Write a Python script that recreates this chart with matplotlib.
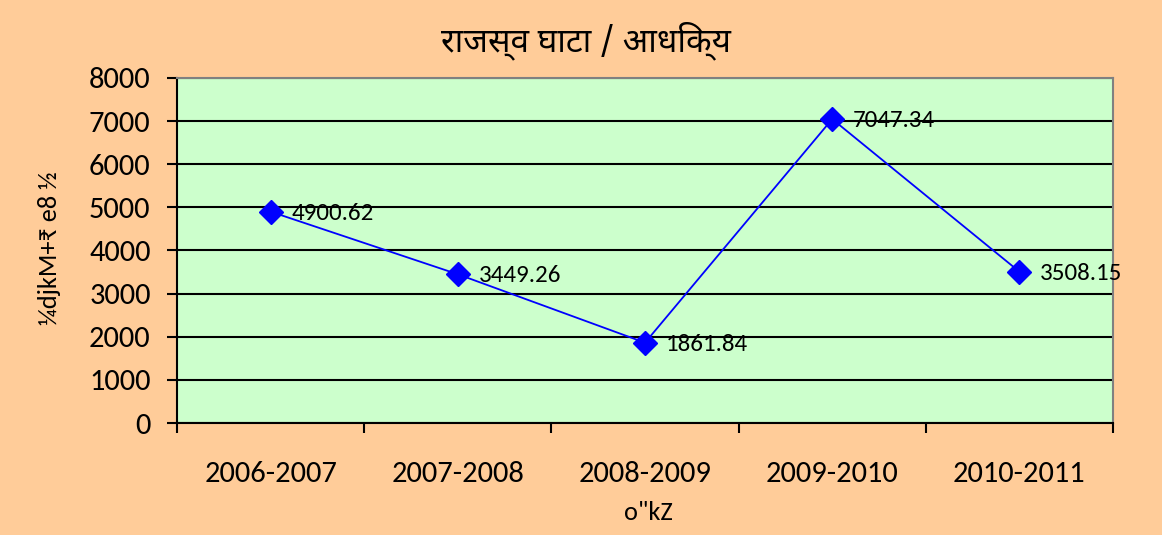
import matplotlib
matplotlib.use("Agg")
import matplotlib.pyplot as plt
from matplotlib import font_manager as fm
from matplotlib.ft2font import FT2Font
from matplotlib.ticker import FixedLocator, NullFormatter

categories = ["2006-2007", "2007-2008", "2008-2009", "2009-2010", "2010-2011"]
values = [4900.62, 3449.26, 1861.84, 7047.34, 3508.15]
value_labels = ["4900.62", "3449.26", "1861.84", "7047.34", "3508.15"]
y_ticks = [0, 1000, 2000, 3000, 4000, 5000, 6000, 7000, 8000]
title = "राजस्व घाटा / आधिक्य"
ylabel = "¼djkM+₹ e8 ½"
xlabel = 'o"kZ'

# find a Devanagari font
deva_path = None
cands = []
for f in fm.findSystemFonts():
    name = f.split("/")[-1]
    if "NotoSansDevanagari-Regular" in name or "NotoSansDevanagari[" in name:
        cands.insert(0, f)
    elif "Devanagari" in name and "Regular" in name:
        cands.append(f)
for f in cands:
    try:
        if 0x0930 in FT2Font(f).get_charmap():
            deva_path = f
            break
    except Exception:
        pass
if deva_path is not None:
    fm.fontManager.addfont(deva_path)
    deva_family = fm.FontProperties(fname=deva_path).get_name()
else:
    deva_family = "DejaVu Sans"

avail = {f.name for f in fm.fontManager.ttflist}
main_family = [f for f in ["Carlito", "Open Sans", "DejaVu Sans"] if f in avail]
plt.rcParams['font.family'] = main_family + ["DejaVu Sans"]

W, H = 1162, 535
fig = plt.figure(figsize=(W / 100, H / 100), dpi=100, facecolor="#FFCC99")
ax = fig.add_axes([177 / W, 1 - 423 / H, (1113 - 177) / W, (423 - 78) / H])
ax.set_facecolor("#CCFFCC")

x = [i + 0.5 for i in range(len(categories))]
ax.plot(x, values, color="#0000FF", lw=1.3, marker="D", markersize=12,
        markerfacecolor="#0000FF", markeredgecolor="#0000FF", zorder=3)
for xi, v, lab in zip(x, values, value_labels):
    ax.annotate(lab, (xi, v), xytext=(15, -1), textcoords="offset points",
                ha="left", va="center", fontsize=18, color="black", zorder=4)

ax.set_xlim(0, len(categories))
ax.set_ylim(0, 8000)
ax.set_yticks(y_ticks)
ax.set_yticklabels([str(t) for t in y_ticks])
ax.yaxis.grid(True, color="black", lw=1.5)
ax.set_axisbelow(True)

ax.xaxis.set_major_locator(FixedLocator(range(len(categories) + 1)))
ax.xaxis.set_major_formatter(NullFormatter())
ax.xaxis.set_minor_locator(FixedLocator(x))
ax.set_xticklabels(categories, minor=True)
ax.tick_params(axis="x", which="major", direction="out", length=7, width=1.5, color="black")
ax.tick_params(axis="x", which="minor", length=0, pad=27, labelsize=22)
ax.tick_params(axis="y", direction="out", length=7, width=1.5, color="black", labelsize=22, pad=12)

for s in ["left", "bottom"]:
    ax.spines[s].set_color("black")
    ax.spines[s].set_linewidth(1.5)
for s in ["top", "right"]:
    ax.spines[s].set_color("#808080")
    ax.spines[s].set_linewidth(1.5)

fig.text(586 / W, 1 - 41 / H, title, ha="center", va="center", fontsize=24,
         family=[deva_family, "DejaVu Sans"])
fig.text(50 / W, 1 - 248 / H, ylabel, ha="center", va="center", rotation=90,
         fontsize=19)
fig.text(648 / W, 1 - 512 / H, xlabel, ha="center", va="center", fontsize=19)

fig.savefig("out.png", dpi=100, facecolor=fig.get_facecolor())
